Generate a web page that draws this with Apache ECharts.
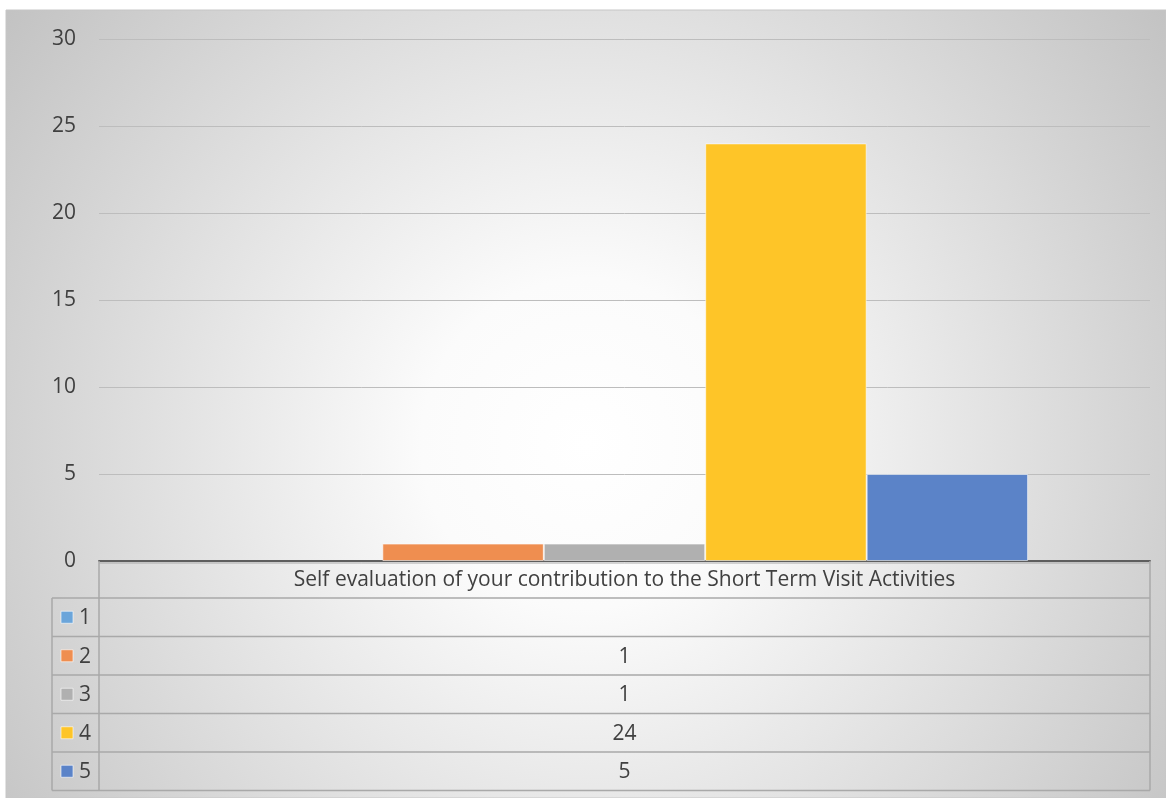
<!DOCTYPE html>
<html>
<head>
<meta charset="utf-8">
<script src="https://cdn.jsdelivr.net/npm/echarts@6/dist/echarts.min.js"></script>
<style>
html,body{margin:0;padding:0;background:#ffffff;}
#chart{width:1166px;height:798px;}
</style>
</head>
<body>
<div id="chart"></div>
<script>
// ---- data ----
const categories = ['Self evaluation of your contribution to the Short Term Visit Activities'];
const seriesNames = ['1', '2', '3', '4', '5'];
const values1 = [null];
const values2 = [1];
const values3 = [1];
const values4 = [24];
const values5 = [5];
const yMin = 0, yMax = 30, yInterval = 5;

const seriesValues = [values1, values2, values3, values4, values5];
const colors = ['#6BA5DA', '#EF8E50', '#B0B0B0', '#FEC528', '#5B83C8'];
const FONT = 'Open Sans';
const TXT = '#404040';
const FS = 21;

const chart = echarts.init(document.getElementById('chart'));

const GRID = {left: 99, right: 16, top: 39, bottom: 237};

const option = {
  animation: false,
  graphic: [],
  grid: GRID,
  xAxis: {
    type: 'category',
    data: categories,
    axisLine: {show: true, lineStyle: {color: '#5e5e5e', width: 2}},
    axisTick: {show: false},
    axisLabel: {show: false}
  },
  yAxis: {
    type: 'value',
    min: yMin, max: yMax, interval: yInterval,
    axisLine: {show: false},
    axisTick: {show: false},
    axisLabel: {color: TXT, fontSize: FS, fontFamily: FONT, margin: 23},
    splitLine: {lineStyle: {color: '#bdbdbd', width: 1}}
  },
  series: seriesNames.map((n, i) => ({
    name: n,
    type: 'bar',
    data: seriesValues[i],
    barGap: '0%',
    barCategoryGap: '23.2%',
    itemStyle: {color: colors[i], borderColor: 'rgba(255,255,255,0.55)', borderWidth: 1}
  }))
};
chart.setOption(option);

// ---- background + data table built from the axes' layout ----
function buildGraphics() {
  const y0 = chart.convertToPixel({yAxisIndex: 0}, yMin);
  const plotL = GRID.left;
  const plotR = 1166 - GRID.right;
  const keyL = 52;
  const headerH = 37;
  const rowH = 38.5;
  const lineC = '#a9a9a9';
  const font = FS + 'px "' + FONT + '"';
  const g = [];
  // background
  g.push({
    type: 'rect', z: -10, silent: true,
    shape: {x: 6, y: 10, width: 1160, height: 788},
    style: {
      fill: {
        type: 'radial', x: 0.5, y: 0.55, r: 0.95,
        colorStops: [
          {offset: 0, color: '#ffffff'},
          {offset: 0.22, color: '#fbfbfb'},
          {offset: 1, color: '#c0c0c0'}
        ]
      },
      stroke: '#c6c6c6', lineWidth: 1
    }
  });
  const cx = (plotL + plotR) / 2;
  const headerBottom = y0 + headerH;
  // header text
  g.push({type: 'text', z: 10, style: {text: categories[0], x: cx, y: y0 + headerH / 2 + 1,
    align: 'center', verticalAlign: 'middle', fill: TXT, font: font}});
  // vertical lines
  const tableBottom = headerBottom + rowH * seriesNames.length;
  g.push({type: 'line', z: 9, shape: {x1: plotL, y1: y0, x2: plotL, y2: tableBottom}, style: {stroke: lineC, lineWidth: 1.5}});
  g.push({type: 'line', z: 9, shape: {x1: plotR, y1: y0, x2: plotR, y2: tableBottom}, style: {stroke: lineC, lineWidth: 1.5}});
  g.push({type: 'line', z: 9, shape: {x1: keyL, y1: headerBottom, x2: keyL, y2: tableBottom}, style: {stroke: lineC, lineWidth: 1.5}});
  g.push({type: 'line', z: 9, shape: {x1: plotL, y1: y0 + 2, x2: plotR, y2: y0 + 2}, style: {stroke: lineC, lineWidth: 1}});
  for (let i = 0; i <= seriesNames.length; i++) {
    const yy = headerBottom + rowH * i;
    g.push({type: 'line', z: 9, shape: {x1: keyL, y1: yy, x2: plotR, y2: yy}, style: {stroke: lineC, lineWidth: 1.5}});
  }
  seriesNames.forEach((n, i) => {
    const ym = headerBottom + rowH * i + rowH / 2;
    g.push({type: 'rect', z: 10, shape: {x: 61, y: ym - 6, width: 12, height: 12},
      style: {fill: colors[i], stroke: 'rgba(255,255,255,0.6)', lineWidth: 1}});
    g.push({type: 'text', z: 10, style: {text: n, x: 79, y: ym + 1, align: 'left', verticalAlign: 'middle',
      fill: TXT, font: font}});
    const v = seriesValues[i][0];
    g.push({type: 'text', z: 10, style: {text: v == null ? '' : String(v), x: cx, y: ym + 1,
      align: 'center', verticalAlign: 'middle', fill: TXT, font: font}});
  });
  chart.setOption({graphic: g});
}
buildGraphics();
</script>
</body>
</html>
